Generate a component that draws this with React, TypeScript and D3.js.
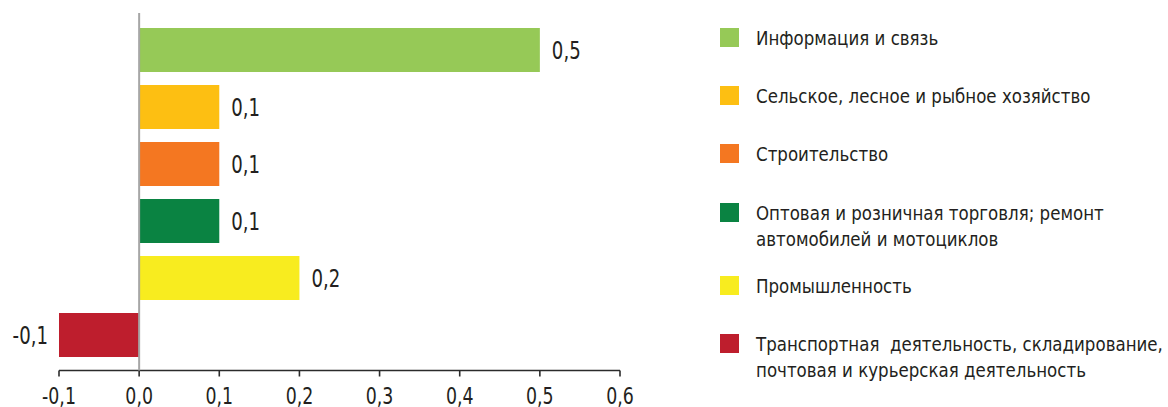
import React from "react";
import * as d3 from "d3";

const categories = [
  "Информация и связь",
  "Сельское, лесное и рыбное хозяйство",
  "Строительство",
  "Оптовая и розничная торговля; ремонт автомобилей и мотоциклов",
  "Промышленность",
  "Транспортная деятельность, складирование, почтовая и курьерская деятельность",
];
const values = [0.5, 0.1, 0.1, 0.1, 0.2, -0.1];
const valueLabels = ["0,5", "0,1", "0,1", "0,1", "0,2", "-0,1"];
const colors = ["#96c957", "#fdbf12", "#f47721", "#0a8342", "#f8ec1f", "#be1e2d"];
const legendLines = [
  ["Информация и связь"],
  ["Сельское, лесное и рыбное хозяйство"],
  ["Строительство"],
  ["Оптовая и розничная торговля; ремонт", "автомобилей и мотоциклов"],
  ["Промышленность"],
  ["Транспортная  деятельность, складирование,", "почтовая и курьерская деятельность"],
];
const ticks = [-0.1, 0, 0.1, 0.2, 0.3, 0.4, 0.5, 0.6];
const tickLabels = ["-0,1", "0,0", "0,1", "0,2", "0,3", "0,4", "0,5", "0,6"];

const W = 1168;
const H = 407;
const FONT = "'DejaVu Sans Condensed', 'Noto Sans', sans-serif";
const TEXT = "#231f20";

function NarrowText(props: {
  x: number;
  y: number;
  sx: number;
  size: number;
  anchor?: "start" | "middle" | "end";
  dy?: string;
  children: React.ReactNode;
}) {
  return (
    <g transform={`translate(${props.x},${props.y}) scale(${props.sx},1)`}>
      <text
        x={0}
        y={0}
        dy={props.dy}
        textAnchor={props.anchor || "start"}
        fontSize={props.size}
        fill={TEXT}
        style={{ whiteSpace: "pre" }}
      >
        {props.children}
      </text>
    </g>
  );
}

export default function App() {
  const x = d3.scaleLinear().domain([-0.1, 0.6]).range([59, 620]);
  const y = d3
    .scaleBand<string>()
    .domain(categories)
    .range([21.5, 363.5])
    .paddingInner(13 / 57)
    .paddingOuter(0.114);
  const axisY = 370.5;
  const legendTop = [28, 86, 144, 203, 276, 334];

  return (
    <div style={{ position: "fixed", left: 0, top: 0 }}>
      <svg width={W} height={H} style={{ display: "block", background: "#fff" }} fontFamily={FONT}>
        {categories.map((c, i) => {
          const v = values[i];
          const x0 = x(Math.min(0, v));
          const x1 = x(Math.max(0, v));
          const yy = y(c)!;
          const bh = y.bandwidth();
          return (
            <g key={c}>
              <rect x={x0} y={yy} width={x1 - x0} height={bh} fill={colors[i]} />
              <NarrowText
                x={v >= 0 ? x1 + 12 : x0 - 11}
                y={yy + bh / 2}
                dy="0.36em"
                anchor={v >= 0 ? "start" : "end"}
                size={24}
                sx={0.84}
              >
                {valueLabels[i]}
              </NarrowText>
            </g>
          );
        })}
        <line x1={x(-0.1)} x2={x(0.6)} y1={axisY} y2={axisY} stroke="#2b2b2b" strokeWidth={1.6} />
        {ticks.map((t, i) => (
          <g key={t}>
            <line x1={x(t)} x2={x(t)} y1={axisY} y2={axisY + 6} stroke="#2b2b2b" strokeWidth={1.6} />
            <NarrowText x={x(t)} y={404} anchor="middle" size={23} sx={0.84}>
              {tickLabels[i]}
            </NarrowText>
          </g>
        ))}
        <line x1={x(0)} x2={x(0)} y1={13} y2={axisY} stroke="#a6a6a6" strokeWidth={2} />
        {legendLines.map((lines, i) => (
          <g key={i}>
            <rect x={720} y={legendTop[i]} width={19} height={19} fill={colors[i]} />
            {lines.map((ln, j) => (
              <NarrowText key={j} x={756} y={legendTop[i] + 16.5 + j * 26.5} size={19.5} sx={0.95}>
                {ln}
              </NarrowText>
            ))}
          </g>
        ))}
      </svg>
    </div>
  );
}
